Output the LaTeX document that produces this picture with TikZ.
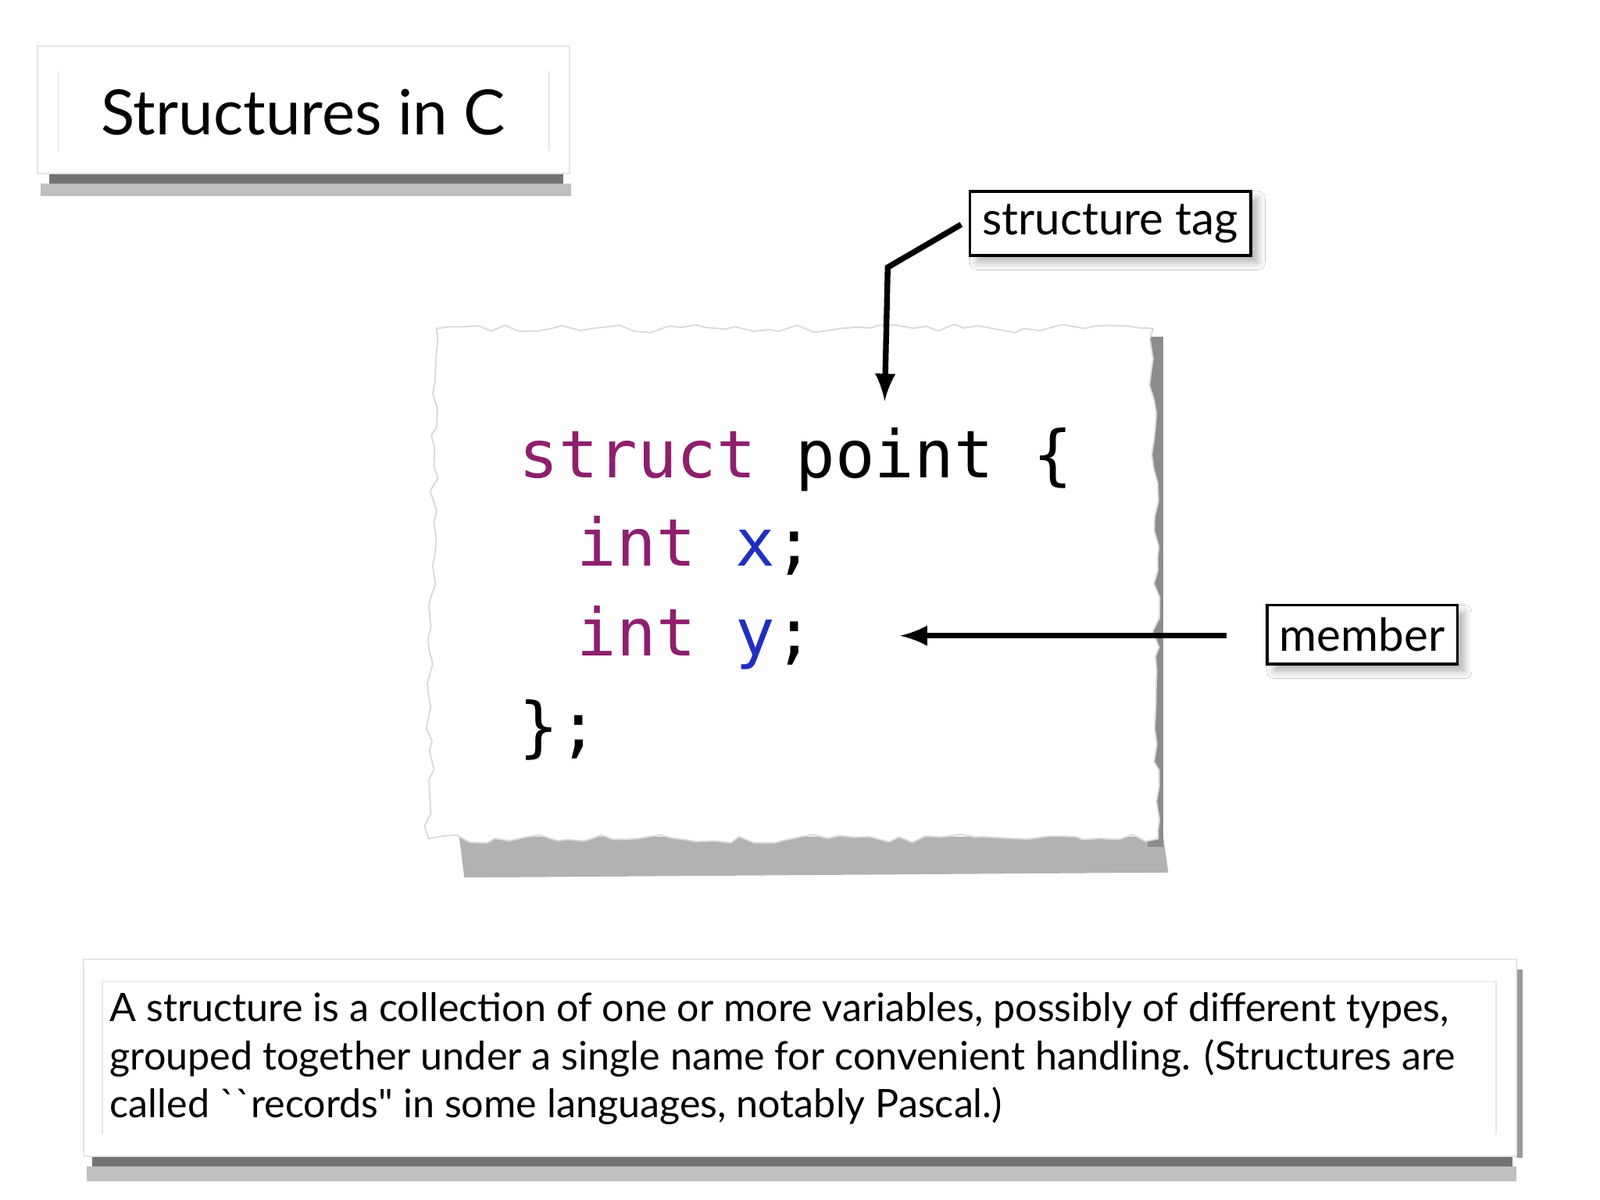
\documentclass[tikz,border=0pt]{standalone}
\usepackage{fontspec}
\setmainfont{Lato}
\newfontfamily\qfont{Lato}[Ligatures=TeXOff]
\setmonofont{DejaVu Sans Mono}
\usetikzlibrary{decorations.pathmorphing,shadows.blur}
\definecolor{kw}{HTML}{8E1F6E}
\definecolor{var}{HTML}{1F2FC0}
\tikzset{
  px/.style={x=0.01cm,y=-0.01cm},
  lbl/.style={draw=black,line width=0.8pt,fill=white,font=\fontsize{12.7}{15}\selectfont,inner sep=3.5pt,blur shadow={shadow xshift=2pt,shadow yshift=-2pt,shadow blur steps=6,shadow opacity=30}},
  arr/.style={line width=1.6pt,-latex},
  code/.style={anchor=base west,font=\ttfamily\fontsize{18.3}{22}\selectfont,inner sep=0},
  shd/.style={fill=black!45,draw=none},
}
\begin{document}
\begin{tikzpicture}[px]
\useasboundingbox (0,0) rectangle (1568,1176);
\fill[white] (0,0) rectangle (1568,1176);
% title
\fill[shd,black!55] (48,170) rectangle (552,180);
\fill[black!25] (40,180) rectangle (560,192);
\fill[white,draw=black!10] (37,45) rectangle (558,170);
\draw[black!10] (57,70)--(57,148) (538,70)--(538,148);
\node[font=\fontsize{17.4}{22}\selectfont] (title) at (297,110) {Structures in C};
% paper
\fill[black!30] (450,820) -- (1140,820) -- (1145,855) -- (455,860) -- cycle;
\fill[black!45] (1125,330) rectangle (1140,830);
\fill[white,draw=black!15,decorate,decoration={random steps,segment length=4pt,amplitude=1.2pt}] (428,322) -- (1130,322) -- (1135,822) -- (420,822) -- cycle;
\node[code] (l1) at (508,468) {\textcolor{kw}{struct} point \{};
\node[code] (l2) at (565,555) {\textcolor{kw}{int} \textcolor{var}{x};};
\node[code] (l3) at (565,643) {\textcolor{kw}{int} \textcolor{var}{y};};
\node[code] (l4) at (508,735) {\};};
% labels
\node[lbl] (tag) at (1088,219) {structure tag};
\node[lbl] (mem) at (1335,622) {member};
\coordinate (t1) at (942,220);
\coordinate (t2) at (870,262);
\coordinate (t3) at (867,393);
\draw[arr] (t1) -- (t2) -- (t3);
\coordinate (m1) at (1202,623);
\coordinate (m2) at (882,623);
\draw[arr] (m1) -- (m2);
% bottom
\fill[black!55] (90,1133) rectangle (1482,1143);
\fill[black!25] (85,1143) rectangle (1486,1158);
\fill[black!40] (1486,950) rectangle (1492,1135);
\fill[white,draw=black!10] (82,940) rectangle (1486,1133);
\draw[black!10] (100,962) -- (1466,962) (100,962)--(100,1112) (1466,962)--(1466,1112);
\node[anchor=north west,align=left,inner sep=0,font=\qfont\fontsize{10.95}{13.4}\selectfont] (desc) at (107,972) {A structure is a collection of one or more variables, possibly of different types,\\grouped together under a single name for convenient handling. (Structures are\\called ``records" in some languages, notably Pascal.)};
\end{tikzpicture}
\end{document}
